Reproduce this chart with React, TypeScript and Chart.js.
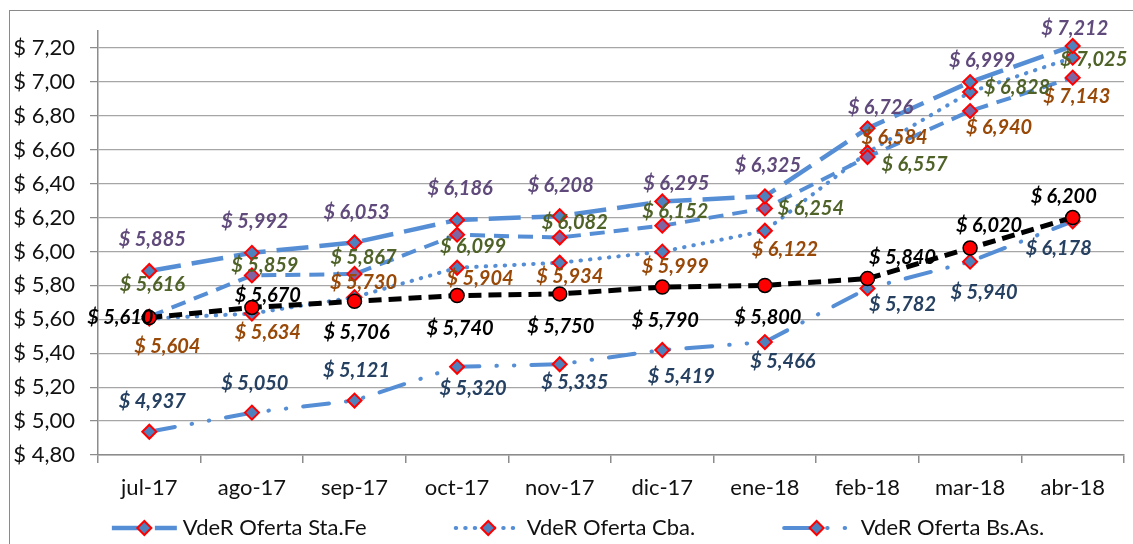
import React, { useEffect, useRef } from "react";
import { Chart, registerables } from "chart.js";

Chart.register(...registerables);

// ---------- data ----------
const categories = ["jul-17", "ago-17", "sep-17", "oct-17", "nov-17", "dic-17", "ene-18", "feb-18", "mar-18", "abr-18"];
const seriesNames = ["VdeR Oferta Sta.Fe", "VdeR Oferta Cba.", " VdeR Oferta Bs.As.", "VdeR Serie 4", "VdeR Referencia"];
const staFe = [5.885, 5.992, 6.053, 6.186, 6.208, 6.295, 6.325, 6.726, 6.999, 7.212];
const cba = [5.604, 5.634, 5.73, 5.904, 5.934, 5.999, 6.122, 6.584, 6.94, 7.143];
const bsAs = [4.937, 5.05, 5.121, 5.32, 5.335, 5.419, 5.466, 5.782, 5.94, 6.178];
const serie4 = [5.616, 5.859, 5.867, 6.099, 6.082, 6.152, 6.254, 6.557, 6.828, 7.025];
const referencia = [5.61, 5.67, 5.706, 5.74, 5.75, 5.79, 5.8, 5.84, 6.02, 6.2];
const yTickValues = [4.8, 5.0, 5.2, 5.4, 5.6, 5.8, 6.0, 6.2, 6.4, 6.6, 6.8, 7.0, 7.2];
const yMin = 4.8;
const yMax = 7.3;

// ---------- styles ----------
const FONT = "Lato";
const LINE_BLUE = "#558ED5";
const MARK_BLUE = "#4F81BD";
const MARK_PURPLE = "#8064A2";
const labelColors = ["#604A7B", "#984807", "#254061", "#4F6228", "#000000"];
// label offsets (dx, dy) relative to the point, per series / per category
const labelOffsets: number[][][] = [
  [[3, -31], [3, -31], [2, -30], [3, -31], [1, -31], [14, -18], [3, -31], [13, -21], [12, -22], [2, -17]],
  [[18, 28], [16, 19], [9, -15], [23, 11], [10, 14], [13, 15], [20, 19], [27, -15], [29, 35], [4, 39]],
  [[3, -30], [3, -29], [2, -30], [16, 22], [15, 18], [19, 27], [18, 20], [35, 16], [14, 31], [-14, 27]],
  [[3, -32], [13, -10], [9, -16], [16, 12], [15, -15], [13, -14], [46, 0], [47, 8], [47, -24], [21, -18]],
  [[-29, 0], [16, -12], [2, 31], [3, 33], [1, 33], [3, 33], [3, 32], [35, -21], [19, -23], [-9, -21]],
];

const fmtValue = (v: number) => "$ " + v.toFixed(3).replace(".", ",");
const fmtAxis = (v: number) => "$ " + Number(v).toFixed(2).replace(".", ",");

const valueLabelPlugin = {
  id: "valueLabels",
  afterDatasetsDraw(chart: any) {
    const ctx = chart.ctx;
    ctx.save();
    ctx.font = `italic bold 20px ${FONT}`;
    ctx.textAlign = "center";
    ctx.textBaseline = "middle";
    chart.data.datasets.forEach((ds: any, i: number) => {
      const meta = chart.getDatasetMeta(i);
      meta.data.forEach((pt: any, j: number) => {
        const [dx, dy] = labelOffsets[i][j];
        ctx.fillStyle = labelColors[i];
        ctx.fillText(fmtValue(ds.data[j]), pt.x + dx, pt.y + dy);
      });
    });
    ctx.restore();
  },
};

const framePlugin = {
  id: "frame",
  beforeDraw(chart: any) {
    const ctx = chart.ctx;
    ctx.save();
    ctx.fillStyle = "#ffffff";
    ctx.fillRect(0, 0, chart.width, chart.height);
    ctx.strokeStyle = "#8a8a8a";
    ctx.lineWidth = 1;
    ctx.strokeRect(9.5, 10.5, chart.width + 20, chart.height + 20);
    ctx.restore();
  },
};

const legendPlugin = {
  id: "customLegend",
  afterDraw(chart: any) {
    const ctx = chart.ctx;
    const shown = [0, 1, 2];
    const sampleW = 65;
    const gap = 6;
    const spacing = 89;
    const y = 528;
    ctx.save();
    ctx.font = `22px ${FONT}`;
    const widths = shown.map((i) => sampleW + gap + ctx.measureText(chart.data.datasets[i].label).width);
    const total = widths.reduce((a, b) => a + b, 0) + spacing * (shown.length - 1);
    let x = 578 - total / 2;
    shown.forEach((i, k) => {
      const ds = chart.data.datasets[i];
      ctx.save();
      ctx.strokeStyle = ds.borderColor;
      ctx.lineWidth = ds.borderWidth;
      ctx.lineCap = ds.borderCapStyle || "butt";
      ctx.setLineDash(ds.borderDash || []);
      ctx.beginPath();
      ctx.moveTo(x, y);
      ctx.lineTo(x + sampleW, y);
      ctx.stroke();
      ctx.setLineDash([]);
      const cx = x + sampleW / 2;
      const r = 7;
      ctx.beginPath();
      ctx.moveTo(cx, y - r);
      ctx.lineTo(cx + r, y);
      ctx.lineTo(cx, y + r);
      ctx.lineTo(cx - r, y);
      ctx.closePath();
      ctx.fillStyle = ds.pointBackgroundColor;
      ctx.fill();
      ctx.lineWidth = 2;
      ctx.strokeStyle = ds.pointBorderColor;
      ctx.stroke();
      ctx.restore();
      ctx.fillStyle = "#111111";
      ctx.textAlign = "left";
      ctx.textBaseline = "middle";
      ctx.fillText(ds.label, x + sampleW + gap, y);
      x += widths[k] + spacing;
    });
    ctx.restore();
  },
};

export default function App() {
  const canvasRef = useRef<HTMLCanvasElement | null>(null);

  useEffect(() => {
    if (!canvasRef.current) return;
    const diamond = (fill: string) => ({
      pointStyle: "rectRot",
      pointRadius: 7,
      pointBackgroundColor: fill,
      pointBorderColor: "#FF0000",
      pointBorderWidth: 2,
    });
    const chart = new Chart(canvasRef.current, {
      type: "line",
      data: {
        labels: categories,
        datasets: [
          {
            label: seriesNames[0],
            data: staFe,
            borderColor: LINE_BLUE,
            borderWidth: 4.5,
            borderDash: [32, 11],
            borderCapStyle: "butt",
            order: 1,
            ...diamond(MARK_BLUE),
          },
          {
            label: seriesNames[1],
            data: cba,
            borderColor: LINE_BLUE,
            borderWidth: 4,
            borderDash: [0.5, 9],
            borderCapStyle: "round",
            order: 3,
            ...diamond(MARK_BLUE),
          },
          {
            label: seriesNames[2],
            data: bsAs,
            borderColor: LINE_BLUE,
            borderWidth: 4,
            borderDash: [26, 17, 0.5, 17, 0.5, 17],
            borderCapStyle: "round",
            order: 4,
            ...diamond(MARK_BLUE),
          },
          {
            label: seriesNames[3],
            data: serie4,
            borderColor: LINE_BLUE,
            borderWidth: 4,
            borderDash: [15, 9],
            borderCapStyle: "butt",
            order: 2,
            ...diamond(MARK_PURPLE),
          },
          {
            label: seriesNames[4],
            data: referencia,
            borderColor: "#000000",
            borderWidth: 5,
            borderDash: [13, 7],
            borderCapStyle: "butt",
            order: 0,
            pointStyle: "circle",
            pointRadius: 7,
            pointBackgroundColor: "#FF0000",
            pointBorderColor: "#000000",
            pointBorderWidth: 1.5,
          },
        ],
      },
      options: {
        responsive: false,
        animation: false,
        devicePixelRatio: 1,
        layout: { padding: { left: 0, right: 5, top: 31, bottom: 39 } },
        elements: { line: { tension: 0 } },
        plugins: {
          legend: { display: false },
          tooltip: { enabled: false },
        },
        scales: {
          x: {
            type: "category",
            offset: true,
            grid: {
              display: true,
              drawOnChartArea: false,
              drawTicks: true,
              tickLength: 8,
              offset: true,
              color: "#8c8c8c",
              lineWidth: 1.5,
            },
            border: { display: true, color: "#8c8c8c", width: 1.5 },
            ticks: {
              font: { family: FONT, size: 22 },
              color: "#111111",
              padding: 12,
              maxRotation: 0,
              autoSkip: false,
            },
            afterFit: (s: any) => {
              s.height = 50;
            },
          },
          y: {
            min: yMin,
            max: yMax,
            afterBuildTicks: (s: any) => {
              s.ticks = yTickValues.map((v) => ({ value: v }));
            },
            grid: { color: "#a6a6a6", lineWidth: 1.25, tickLength: 8, tickColor: "#8c8c8c" },
            border: { display: true, color: "#8c8c8c", width: 1.5 },
            ticks: {
              font: { family: FONT, size: 22 },
              color: "#111111",
              padding: 15,
              callback: (v: any) => fmtAxis(Number(v)),
            },
            afterFit: (s: any) => {
              s.width = 98;
            },
          },
        },
      },
      plugins: [framePlugin, valueLabelPlugin, legendPlugin],
    } as any);
    return () => chart.destroy();
  }, []);

  return (
    <canvas
      ref={canvasRef}
      width={1133}
      height={544}
      style={{ position: "absolute", left: 0, top: 0, width: 1133, height: 544 }}
    />
  );
}
